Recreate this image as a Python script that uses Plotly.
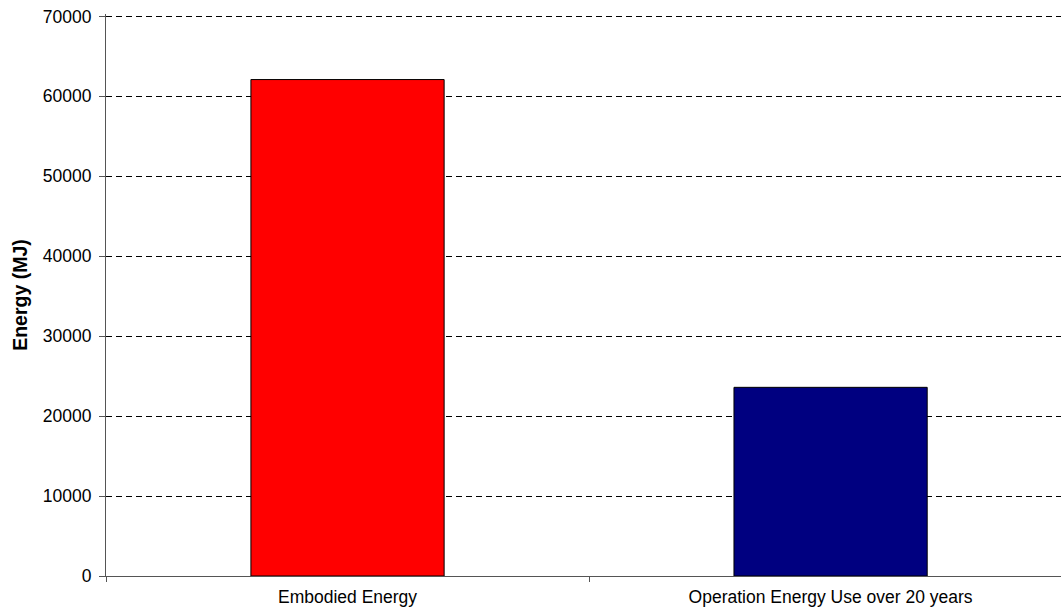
import plotly.graph_objects as go

categories = ["Embodied Energy", "Operation Energy Use over 20 years"]
energy_mj = [62100, 23600]
bar_colors = ["#FF0000", "#000080"]
y_ticks = [0, 10000, 20000, 30000, 40000, 50000, 60000, 70000]

font_family = "Liberation Sans, Arial, sans-serif"

fig = go.Figure(
    go.Bar(
        x=categories,
        y=energy_mj,
        width=0.4,
        marker=dict(color=bar_colors, line=dict(color="#000000", width=1)),
    )
)

fig.update_layout(
    width=1061,
    height=608,
    margin=dict(l=106, r=0, t=14, b=32),
    paper_bgcolor="white",
    plot_bgcolor="white",
    showlegend=False,
    font=dict(family=font_family, size=17.5, color="#000000"),
)

fig.update_xaxes(
    type="category",
    range=[-0.5, 1.477],
    showgrid=False,
    showline=True,
    linecolor="#555555",
    linewidth=1,
    ticks="outside",
    tickson="boundaries",
    ticklen=5,
    tickcolor="#555555",
    tickfont=dict(size=17.5),
    ticklabelstandoff=5,
)

fig.update_yaxes(
    range=[0, 70300],
    tickvals=y_ticks,
    ticktext=[str(v) for v in y_ticks],
    showgrid=True,
    gridcolor="#000000",
    gridwidth=1,
    griddash="6px,4px",
    showline=True,
    linecolor="#555555",
    linewidth=1,
    ticks="outside",
    ticklen=6,
    tickcolor="#555555",
    tickfont=dict(size=17.5),
    ticklabelstandoff=4,
    zeroline=False,
    title=dict(
        text="<b>Energy (MJ)</b>",
        font=dict(size=19.5, family=font_family),
        standoff=10,
    ),
)

fig.write_html("out.html")
